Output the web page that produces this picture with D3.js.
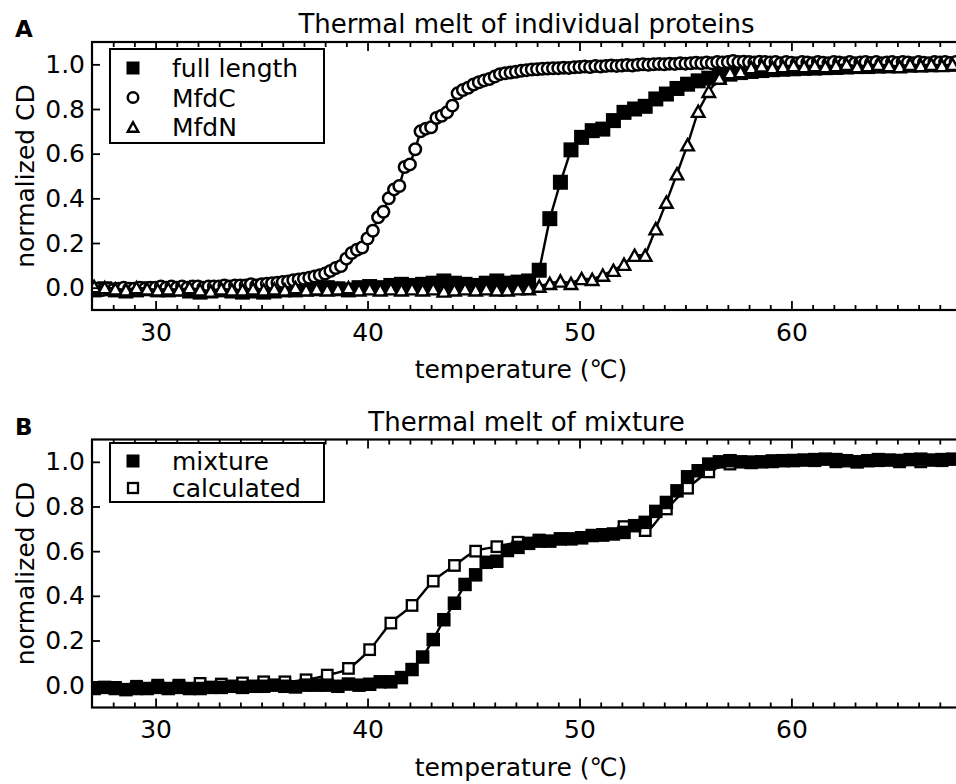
<!DOCTYPE html>
<html><head><meta charset="utf-8">
<script src="https://cdn.jsdelivr.net/npm/d3@7"></script>
<style>
body{margin:0;background:#fff}
svg{display:block}
text{font-family:"DejaVu Sans",sans-serif;fill:#000}
</style></head>
<body><svg id="chart" width="956" height="784"></svg>
<script>
// ---------- data ----------
const tempsHalf = [27.1,27.6,28.1,28.6,29.1,29.6,30.1,30.6,31.1,31.6,
  32.1,32.6,33.1,33.6,34.1,34.6,35.1,35.6,36.1,36.6,
  37.1,37.6,38.1,38.6,39.1,39.6,40.1,40.6,41.1,41.6,
  42.1,42.6,43.1,43.6,44.1,44.6,45.1,45.6,46.1,46.6,
  47.1,47.6,48.1,48.6,49.1,49.6,50.1,50.6,51.1,51.6,
  52.1,52.6,53.1,53.6,54.1,54.6,55.1,55.6,56.1,56.6,
  57.1,57.6,58.1,58.6,59.1,59.6,60.1,60.6,61.1,61.6,
  62.1,62.6,63.1,63.6,64.1,64.6,65.1,65.6,66.1,66.6,
  67.1,67.6];
const fullLength = [-0.01,-0.005,-0.01,-0.015,-0.01,-0.005,-0.01,-0.01,-0.005,-0.015,
  -0.02,-0.015,-0.01,-0.015,-0.02,-0.015,-0.02,-0.015,-0.01,-0.01,
  -0.005,-0.005,0.0,-0.005,-0.01,0.0,0.005,0.0,0.01,0.015,
  0.01,0.015,0.02,0.03,0.02,0.015,0.01,0.02,0.03,0.02,
  0.025,0.03,0.078,0.309,0.472,0.617,0.673,0.703,0.71,0.748,
  0.785,0.80,0.812,0.845,0.867,0.892,0.911,0.926,0.938,0.949,
  0.956,0.963,0.968,0.972,0.976,0.978,0.98,0.982,0.983,0.985,
  0.986,0.988,0.99,0.99,0.992,0.993,0.995,0.996,0.997,0.998,
  1.0,1.0];
const mfdN = [0.005,0.0,-0.005,-0.01,0.0,-0.005,-0.01,-0.005,-0.01,0.0,
  -0.01,-0.015,-0.005,-0.01,-0.01,-0.005,-0.01,-0.005,-0.01,0.0,
  -0.01,-0.005,-0.01,-0.005,0.0,-0.01,-0.005,-0.01,-0.005,-0.01,
  -0.005,-0.01,-0.005,-0.015,-0.01,-0.005,-0.01,-0.005,-0.01,-0.01,
  -0.005,-0.004,0.007,0.019,0.03,0.019,0.041,0.037,0.056,0.078,
  0.105,0.145,0.145,0.264,0.383,0.51,0.64,0.79,0.879,0.938,
  0.963,0.968,0.986,0.993,0.986,0.99,0.995,0.99,0.995,0.99,
  0.995,1.0,0.99,0.995,1.0,0.995,0.99,1.0,0.995,1.0,
  0.995,1.0];
const tempsQuarter = [27,27.25,27.5,27.75,28,28.25,28.5,28.75,29,29.25,29.5,29.75,
  30,30.25,30.5,30.75,31,31.25,31.5,31.75,32,32.25,32.5,32.75,33,33.25,33.5,33.75,
  34,34.25,34.5,34.75,35,35.25,35.5,35.75,36,36.25,36.5,36.75,37,37.25,37.5,37.75,
  38,38.25,38.5,38.75,39,39.25,39.5,39.75,40,40.25,40.5,40.75,41,41.25,41.5,41.75,
  42,42.25,42.5,42.75,43,43.25,43.5,43.75,44,44.25,44.5,44.75,45,45.25,45.5,45.75,
  46,46.25,46.5,46.75,47,47.25,47.5,47.75,48,48.25,48.5,48.75,49,49.25,49.5,49.75,
  50,50.25,50.5,50.75,51,51.25,51.5,51.75,52,52.25,52.5,52.75,53,53.25,53.5,53.75,
  54,54.25,54.5,54.75,55,55.25,55.5,55.75,56,56.25,56.5,56.75,57,57.25,57.5,57.75,
  58,58.25,58.5,58.75,59,59.25,59.5,59.75,60,60.25,60.5,60.75,61,61.25,61.5,61.75,
  62,62.25,62.5,62.75,63,63.25,63.5,63.75,64,64.25,64.5,64.75,65,65.25,65.5,65.75,
  66,66.25,66.5,66.75,67,67.25,67.5,67.75];
const mfdC = [-0.01,-0.005,-0.01,-0.005, -0.01,-0.005,0.0,-0.005, -0.005,0.0,-0.005,0.0,
  0.0,0.005,0.0,0.005, 0.0,0.005,0.0,0.005, 0.005,0.0,0.005,0.005, 0.005,0.01,0.005,0.01,
  0.01,0.01,0.015,0.01, 0.015,0.018,0.02,0.022, 0.025,0.028,0.033,0.037, 0.04,0.044,0.05,0.056,
  0.063,0.075,0.088,0.097, 0.13,0.155,0.17,0.18, 0.22,0.255,0.315,0.34, 0.40,0.44,0.455,0.54,
  0.552,0.62,0.70,0.712, 0.718,0.76,0.77,0.785, 0.815,0.87,0.885,0.895, 0.91,0.92,0.928,0.934,
  0.945,0.956,0.96,0.963, 0.967,0.971,0.974,0.977, 0.978,0.98,0.981,0.982, 0.983,0.985,0.984,0.987,
  0.988,0.99,0.988,0.992, 0.99,0.993,0.995,0.993, 0.995,0.997,0.995,0.998, 1.0,0.998,1.0,1.002,
  1.0,1.003,1.002,1.005, 1.003,1.005,1.007,1.005, 1.008,1.005,1.01,1.008, 1.01,1.015,1.01,1.012,
  1.01,1.008,1.012,1.01, 1.008,1.01,1.005,1.01, 1.007,1.005,1.01,1.008, 1.005,1.01,1.007,1.005,
  1.01,1.008,1.005,1.01, 1.005,1.008,1.01,1.006, 1.01,1.005,1.008,1.01, 1.006,1.01,1.008,1.005,
  1.01,1.007,1.005,1.01, 1.008,1.01,1.006,1.01];
const mixture = [-0.015,-0.01,-0.015,-0.02,-0.015,-0.015,-0.01,-0.015,-0.01,-0.015,
  -0.015,-0.01,-0.01,-0.005,-0.01,-0.005,-0.005,0.0,-0.005,-0.008,
  0.0,0.0,0.0,-0.005,0.005,0.0,0.004,0.015,0.015,0.034,
  0.07,0.126,0.204,0.293,0.367,0.451,0.494,0.55,0.555,0.603,
  0.617,0.635,0.645,0.645,0.655,0.655,0.66,0.67,0.672,0.677,
  0.684,0.714,0.729,0.778,0.818,0.87,0.933,0.96,0.99,1.0,
  1.005,1.0,0.997,1.0,1.004,1.005,1.006,1.008,1.01,1.012,
  1.01,1.005,1.0,1.005,1.01,1.008,1.006,1.01,1.012,1.008,
  1.01,1.012];
const tempsCalc = [27.1,28.1,29.1,30.1,31.1,32.1,33.1,34.1,35.1,36.1,
  37.1,38.1,39.1,40.1,41.1,42.1,43.1,44.1,45.1,46.1,
  47.1,48.1,49.1,50.1,51.1,52.1,53.1,54.1,55.1,56.1,
  57.1,58.1,59.1,60.1,61.1,62.1,63.1,64.1,65.1,66.1,67.1];
const calculated = [-0.01,-0.01,-0.005,0.0,0.0,0.008,0.005,0.01,0.015,0.015,
  0.024,0.045,0.075,0.159,0.278,0.357,0.466,0.536,0.6,0.62,
  0.64,0.65,0.655,0.66,0.675,0.71,0.692,0.789,0.882,0.955,
  0.99,1.0,1.0,1.005,1.005,1.0,1.0,1.005,1.0,1.0,1.005];
const xMajorTicks = [30,40,50,60];
const xMinorTicks = [28,29,31,32,33,34,35,36,37,38,39,41,42,43,44,45,46,47,48,49,51,52,53,54,55,56,57,58,59,61,62,63,64,65,66,67];
const yTicks = [0.0,0.2,0.4,0.6,0.8,1.0];
const titleA = "Thermal melt of individual proteins";
const titleB = "Thermal melt of mixture";
const xLabel = "temperature (\u2103)";
const yLabel = "normalized CD";

// ---------- drawing ----------
const svg = d3.select("#chart");
const FS = 25;
const left = 92, right = 961;
const x = d3.scaleLinear().domain([27, 68]).range([left, right]);

function marker(g, type, cx, cy, s) {
  if (type === "sqFill") {
    g.append("rect").attr("x", cx - s/2).attr("y", cy - s/2).attr("width", s).attr("height", s)
      .attr("fill", "#000").attr("stroke", "#000").attr("stroke-width", 1.5);
  } else if (type === "sqOpen") {
    g.append("rect").attr("x", cx - s/2).attr("y", cy - s/2).attr("width", s).attr("height", s)
      .attr("fill", "#fff").attr("stroke", "#000").attr("stroke-width", 2.3);
  } else if (type === "circle") {
    g.append("circle").attr("cx", cx).attr("cy", cy).attr("r", s/2)
      .attr("fill", "#fff").attr("stroke", "#000").attr("stroke-width", 2.5);
  } else if (type === "tri") {
    const w = s, h = s * 0.9;
    g.append("path").attr("d", `M${cx},${cy - h/2}L${cx + w/2},${cy + h/2}L${cx - w/2},${cy + h/2}Z`)
      .attr("fill", "#fff").attr("stroke", "#000").attr("stroke-width", 2.4).attr("stroke-linejoin", "miter");
  }
}

function panel(cfg) {
  const y = d3.scaleLinear().domain([-0.1, 1.1]).range([cfg.bottom, cfg.top]);
  const g = svg.append("g");
  const clipId = "clip" + cfg.id;
  svg.append("clipPath").attr("id", clipId).append("rect")
    .attr("x", left).attr("y", cfg.top).attr("width", right - left).attr("height", cfg.bottom - cfg.top);
  const plot = g.append("g").attr("clip-path", `url(#${clipId})`);

  cfg.series.forEach(s => {
    const pts = s.temps.map((t, i) => [t, s.values[i]]);
    const line = d3.line().x(d => x(d[0])).y(d => y(d[1]));
    if (s.smooth) line.curve(d3.curveMonotoneX);
    plot.append("path").attr("d", line(pts)).attr("fill", "none")
      .attr("stroke", "#000").attr("stroke-width", 2.4);
    const mg = plot.append("g");
    pts.forEach(p => marker(mg, s.marker, x(p[0]), y(p[1]), s.size));
  });

  g.append("g").attr("transform", `translate(0,${cfg.bottom})`)
    .call(d3.axisBottom(x).tickValues(xMajorTicks).tickFormat(d3.format("d"))
      .tickSizeInner(-9).tickSizeOuter(0).tickPadding(13));
  g.append("g").attr("transform", `translate(0,${cfg.bottom})`)
    .call(d3.axisBottom(x).tickValues(xMinorTicks).tickFormat("").tickSizeInner(-5).tickSizeOuter(0));
  g.append("g").attr("transform", `translate(0,${cfg.top})`)
    .call(d3.axisTop(x).tickValues(xMajorTicks).tickFormat("").tickSizeInner(-9).tickSizeOuter(0));
  g.append("g").attr("transform", `translate(0,${cfg.top})`)
    .call(d3.axisTop(x).tickValues(xMinorTicks).tickFormat("").tickSizeInner(-5).tickSizeOuter(0));
  g.append("g").attr("transform", `translate(${left},0)`)
    .call(d3.axisLeft(y).tickValues(yTicks).tickFormat(d3.format(".1f"))
      .tickSizeInner(-8).tickSizeOuter(0).tickPadding(7));
  g.selectAll(".domain").remove();
  g.selectAll(".tick line").attr("stroke", "#000").attr("stroke-width", 1.8);
  g.selectAll(".tick text").attr("font-size", FS).attr("font-family", "DejaVu Sans").attr("fill", "#000");

  g.append("rect").attr("x", left).attr("y", cfg.top).attr("width", right - left)
    .attr("height", cfg.bottom - cfg.top).attr("fill", "none").attr("stroke", "#000").attr("stroke-width", 2.2);

  g.append("text").attr("x", (left + right) / 2).attr("y", cfg.top - 9).attr("text-anchor", "middle")
    .attr("font-size", 26).text(cfg.title);
  g.append("text").attr("x", 15).attr("y", cfg.top - 5).style("font-size", "23px").style("font-weight", "bold")
    .text(cfg.letter);
  g.append("text").attr("x", 521).attr("y", cfg.bottom + 68).attr("text-anchor", "middle")
    .attr("font-size", FS).text(xLabel);
  g.append("text").attr("transform", `translate(34,${(cfg.top + cfg.bottom) / 2}) rotate(-90)`)
    .attr("text-anchor", "middle").attr("font-size", FS).text(yLabel);

  const lg = g.append("g");
  lg.append("rect").attr("x", 110).attr("y", cfg.top + cfg.legTop).attr("width", 214)
    .attr("height", cfg.legH).attr("fill", "#fff")
    .attr("stroke", "#000").attr("stroke-width", 2);
  cfg.legend.forEach((L, i) => {
    const cy = cfg.top + cfg.legRow0 + i * cfg.legStep;
    marker(lg, L.marker, 133, cy, L.size);
    lg.append("text").attr("x", 172).attr("y", cy).attr("dy", "0.36em").attr("font-size", FS).text(L.label);
  });
}

panel({
  id: "A", top: 42, bottom: 310, title: titleA, letter: "A",
  legTop: 7, legH: 94, legRow0: 26, legStep: 29.5,
  series: [
    {temps: tempsHalf, values: fullLength, marker: "sqFill", size: 13.5},
    {temps: tempsQuarter, values: mfdC, marker: "circle", size: 11.5},
    {temps: tempsHalf, values: mfdN, marker: "tri", size: 12.5}
  ],
  legend: [
    {label: "full length", marker: "sqFill", size: 11.5},
    {label: "MfdC", marker: "circle", size: 10.5},
    {label: "MfdN", marker: "tri", size: 10.5}
  ]
});
panel({
  id: "B", top: 439.5, bottom: 707.5, title: titleB, letter: "B",
  legTop: 3.5, legH: 59, legRow0: 21.5, legStep: 27,
  series: [
    {temps: tempsCalc, values: calculated, marker: "sqOpen", size: 10.5, smooth: true},
    {temps: tempsHalf, values: mixture, marker: "sqFill", size: 12}
  ],
  legend: [
    {label: "mixture", marker: "sqFill", size: 11.5},
    {label: "calculated", marker: "sqOpen", size: 10}
  ]
});
</script></body></html>
